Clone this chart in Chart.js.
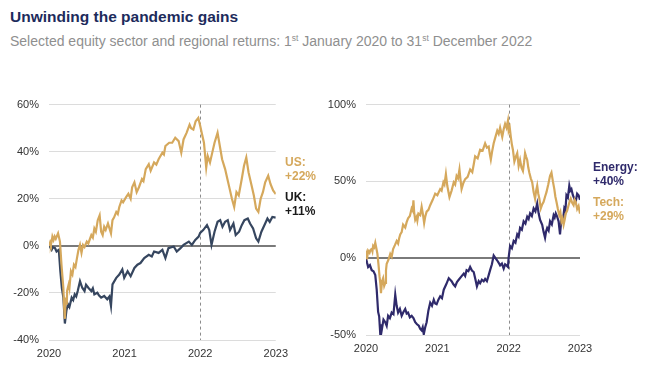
<!DOCTYPE html>
<html lang="en">
<head>
  <meta charset="UTF-8">
  <title>Unwinding the pandemic gains</title>
  <script src="https://cdn.jsdelivr.net/npm/chart.js"></script>
  <style>
    body {
      margin: 0;
      width: 660px;
      height: 370px;
      background: #fff;
      font-family: 'Liberation Sans', Arial, sans-serif;
      position: relative;
      overflow: hidden;
    }
    h1 {
      position: absolute;
      left: 10px;
      top: 8px;
      margin: 0;
      font-size: 15.5px;
      line-height: 18px;
      font-weight: bold;
      color: #1d2b5c;
    }
    .subtitle {
      position: absolute;
      left: 10px;
      top: 33px;
      font-size: 14px;
      line-height: 17px;
      color: #8f8f8f;
      white-space: nowrap;
    }
    .subtitle sup { font-size: 8.5px; line-height: 0; vertical-align: 5px; }
    canvas { position: absolute; }
    .tag {
      position: absolute;
      font-size: 12px;
      line-height: 13.5px;
      font-weight: bold;
    }
  </style>
</head>
<body>
  <h1>Unwinding the pandemic gains</h1>
  <div class="subtitle">Selected equity sector and regional returns: 1<sup>st</sup> January 2020 to 31<sup>st</sup> December 2022</div>

  <canvas id="regionChart" width="295" height="280" style="left:0;top:88px"></canvas>
  <canvas id="sectorChart" width="290" height="280" style="left:320px;top:88px"></canvas>

  <div class="tag" style="left:285px;top:156px;color:#d5a85c">US:<br>+22%</div>
  <div class="tag" style="left:285px;top:191px;color:#1a1a1a">UK:<br>+11%</div>
  <div class="tag" style="left:593px;top:161px;color:#2f2a6b">Energy:<br>+40%</div>
  <div class="tag" style="left:593px;top:196px;color:#d5a85c">Tech:<br>+29%</div>

  <script>
    // cumulative returns in %, x = fractional year
    const usYears = [2020.000,2020.015,2020.025,2020.035,2020.045,2020.06,2020.075,2020.09,2020.12,2020.145,2020.165,2020.18,2020.19,2020.20,2020.21,2020.22,2020.235,2020.24,2020.26,2020.27,2020.29,2020.31,2020.33,2020.35,2020.37,2020.39,2020.41,2020.43,2020.45,2020.47,2020.50,2020.52,2020.56,2020.58,2020.60,2020.62,2020.645,2020.67,2020.69,2020.71,2020.73,2020.75,2020.78,2020.80,2020.82,2020.84,2020.86,2020.89,2020.91,2020.93,2020.96,2020.98,2021.02,2021.05,2021.08,2021.10,2021.13,2021.16,2021.19,2021.23,2021.25,2021.28,2021.32,2021.345,2021.39,2021.42,2021.45,2021.50,2021.52,2021.54,2021.59,2021.63,2021.67,2021.715,2021.75,2021.78,2021.82,2021.86,2021.88,2021.91,2021.94,2021.975,2022.00,2022.02,2022.05,2022.08,2022.10,2022.13,2022.16,2022.19,2022.23,2022.26,2022.29,2022.33,2022.36,2022.39,2022.42,2022.45,2022.48,2022.51,2022.55,2022.58,2022.61,2022.64,2022.68,2022.71,2022.74,2022.77,2022.80,2022.83,2022.86,2022.90,2022.93,2022.965,2023.00];
    const usValues = [0,1.5,0.5,1.8,3.9,2.5,4,3,5.3,1.8,-8,-14,-17.9,-26,-31,-22,-25,-19,-16.4,-18,-10.8,-12.2,-8,-9,-5.2,-1.7,0.4,-3,0.4,-0.5,1.8,1,4.6,3.5,7.4,6,10.9,13,6,4.6,8.1,6.8,9.5,7.4,5.3,10.9,12,14.4,13.5,16.5,19.3,18.5,20.7,22.1,20,24.9,27,22.8,24.9,28.4,27.5,32.6,34.7,31.9,35.4,34.5,36.8,39.6,38.8,42.4,43.8,43.8,45.9,44.5,39.6,45.2,48,51.5,50,49.4,52.9,54.3,51,48,43.8,33.3,38.2,35.4,39.6,43.8,48,42.4,36.8,32.6,28.4,24.2,20,16.5,22.8,21.4,28.4,34,37.5,31.2,25.6,21.4,15.8,14.4,20,22.8,27,29.8,26.3,23.5,22];

    const ukYears = [2020.000,2020.02,2020.035,2020.05,2020.08,2020.10,2020.13,2020.15,2020.17,2020.19,2020.21,2020.23,2020.25,2020.27,2020.30,2020.32,2020.34,2020.36,2020.38,2020.41,2020.44,2020.47,2020.49,2020.52,2020.56,2020.58,2020.60,2020.64,2020.66,2020.69,2020.73,2020.77,2020.80,2020.82,2020.84,2020.89,2020.93,2020.97,2020.995,2021.04,2021.08,2021.13,2021.17,2021.21,2021.26,2021.32,2021.36,2021.39,2021.45,2021.50,2021.54,2021.58,2021.65,2021.69,2021.74,2021.78,2021.85,2021.89,2021.935,2021.98,2022.00,2022.04,2022.09,2022.12,2022.15,2022.19,2022.23,2022.265,2022.295,2022.33,2022.365,2022.395,2022.44,2022.47,2022.515,2022.55,2022.585,2022.63,2022.66,2022.70,2022.74,2022.77,2022.81,2022.86,2022.89,2022.92,2022.955,2023.00];
    const ukValues = [0,-0.8,-1.7,-0.6,-1,-2.4,-1.7,-10.8,-18,-22,-33,-27.6,-24.8,-26,-22,-23,-20.6,-21.5,-19.2,-15,-17.8,-19.2,-16.5,-17.8,-19.2,-18,-20.6,-19.9,-21,-22,-21.3,-22.7,-21.5,-25.5,-16.4,-13.6,-12.2,-10,-13.6,-10.8,-12.9,-9.4,-8,-7.3,-5.2,-3.8,-4.5,-2.4,-3,-1.7,-5.2,-1,-0.3,-2.4,-1,0.4,1.8,0.4,2.5,3.9,5.5,6.7,8.8,6.7,0.4,6,10.2,10.9,8.1,10.2,10.9,6.7,9.5,4.6,6,8.8,10.9,11.6,9.5,7.4,3.2,1.8,6,9.5,11.6,10.2,12.3,12];

    const techYears = [2020.00,2020.01,2020.02,2020.03,2020.05,2020.065,2020.08,2020.09,2020.10,2020.115,2020.13,2020.145,2020.16,2020.175,2020.19,2020.20,2020.21,2020.225,2020.24,2020.255,2020.27,2020.28,2020.29,2020.315,2020.34,2020.36,2020.38,2020.405,2020.43,2020.45,2020.465,2020.48,2020.50,2020.52,2020.55,2020.57,2020.59,2020.615,2020.64,2020.655,2020.665,2020.675,2020.69,2020.71,2020.72,2020.735,2020.76,2020.78,2020.80,2020.815,2020.83,2020.85,2020.875,2020.90,2020.935,2020.97,2021.00,2021.04,2021.06,2021.085,2021.10,2021.12,2021.14,2021.17,2021.20,2021.23,2021.25,2021.27,2021.29,2021.31,2021.325,2021.34,2021.365,2021.39,2021.425,2021.46,2021.49,2021.51,2021.53,2021.565,2021.60,2021.635,2021.67,2021.695,2021.72,2021.735,2021.75,2021.77,2021.79,2021.815,2021.84,2021.86,2021.88,2021.91,2021.93,2021.95,2021.97,2021.99,2022.00,2022.015,2022.03,2022.045,2022.06,2022.08,2022.10,2022.12,2022.14,2022.16,2022.18,2022.20,2022.215,2022.23,2022.245,2022.26,2022.275,2022.29,2022.31,2022.33,2022.35,2022.37,2022.385,2022.40,2022.415,2022.43,2022.45,2022.47,2022.49,2022.51,2022.53,2022.555,2022.58,2022.60,2022.62,2022.64,2022.655,2022.67,2022.69,2022.71,2022.725,2022.74,2022.755,2022.77,2022.785,2022.80,2022.82,2022.84,2022.855,2022.87,2022.89,2022.91,2022.925,2022.94,2022.96,2022.98,2023.00];
    const techValues = [0,2.8,1.5,4.9,3.5,5.5,6,4.5,8,7,10,6.5,2.8,-4,-12,-16,-22.7,-15,-13,-18,-16,-8,-3.6,-1,2.8,1,6,8.5,11.2,9.5,13,15.5,17,21.8,20,23.5,26,27.5,32.4,31,37.7,30,25,27,24.5,29,28,33.5,28,22.9,27,30.3,31.5,34.5,38,42,41,45,44,49.4,48,54.7,47,39.8,44,49.4,48,53.6,52,57.8,51,45,49,51.5,53,57.8,56,61,66.3,65,70.6,70,74.8,72,72.7,68,64.2,70,74.8,79,83,81,85,79,84,87.5,85,89.6,83,85,79,74,70.5,63,66,68.4,60,64,59,56.8,62,68.4,66,64,59,55.7,52,49.4,43,38.8,44,47.2,42,38.8,32.4,35,36.7,40,43,48,53.6,55.7,50,45,40,36.7,32,28,30,24,26,21.8,25,29,31,34.5,37,38.8,36,34.5,38,36.7,32,34,29];

    const energyYears = [2020.00,2020.015,2020.03,2020.055,2020.08,2020.105,2020.13,2020.15,2020.17,2020.185,2020.20,2020.21,2020.22,2020.245,2020.27,2020.29,2020.31,2020.335,2020.36,2020.385,2020.41,2020.43,2020.45,2020.475,2020.50,2020.525,2020.55,2020.57,2020.59,2020.615,2020.64,2020.665,2020.69,2020.715,2020.74,2020.76,2020.78,2020.795,2020.81,2020.83,2020.85,2020.875,2020.90,2020.925,2020.95,2020.97,2020.99,2021.015,2021.04,2021.065,2021.09,2021.125,2021.16,2021.18,2021.20,2021.225,2021.25,2021.275,2021.30,2021.335,2021.37,2021.39,2021.41,2021.435,2021.46,2021.485,2021.51,2021.535,2021.555,2021.58,2021.60,2021.625,2021.65,2021.67,2021.695,2021.72,2021.74,2021.765,2021.79,2021.815,2021.84,2021.86,2021.88,2021.905,2021.93,2021.95,2021.97,2021.99,2022.00,2022.02,2022.045,2022.07,2022.095,2022.12,2022.14,2022.16,2022.185,2022.21,2022.235,2022.26,2022.28,2022.30,2022.325,2022.35,2022.375,2022.40,2022.42,2022.44,2022.47,2022.49,2022.51,2022.525,2022.54,2022.56,2022.58,2022.605,2022.63,2022.645,2022.66,2022.68,2022.70,2022.72,2022.74,2022.76,2022.78,2022.795,2022.81,2022.83,2022.85,2022.865,2022.88,2022.90,2022.92,2022.94,2022.96,2022.98,2023.00];
    const energyValues = [0,-3,-5.7,-4.5,-7.8,-8.5,-11,-20.5,-35,-38,-49.5,-43,-47,-40,-41.7,-44,-37.5,-39,-35.4,-36.5,-23.7,-31,-35.4,-33,-37.5,-35,-33,-36,-35.4,-38.5,-37.5,-39,-41.7,-43,-44,-46,-47,-45,-49.5,-45,-41.7,-34,-29,-31,-27,-29.5,-30,-27,-24.8,-26,-20.5,-17,-13,-14,-15,-17,-18.4,-15.5,-14,-12,-10,-11.5,-7.8,-8.5,-5.7,-8,-9,-14,-18.4,-15,-16.3,-14,-15,-13.5,-15,-11,-7.8,-4,1.7,0,-1.5,-3,-4.7,-3.5,-6.8,-4,-4.7,-5.7,0.6,8,6.5,11.2,10,15.5,14,19.7,18.5,24,22.5,27,25.5,29.2,27.5,32.4,30.5,35.6,29.2,25,21.8,17,13.3,17.5,19.7,18,24,22,28,26.5,29.2,27,24,15.5,26,24,32.4,31,41,39.5,47.2,44,45,41,38.8,36.7,42,41,38];

    const yearTicks = [2020, 2021, 2022, 2023];
    const refYear = 2022;

    const GOLD = '#d5a85c';
    const SLATE = '#36465f';
    const INDIGO = '#2f2a6b';

    const pts = (xs, ys) => xs.map((x, i) => ({ x: x, y: ys[i] }));

    // dashed marker at the start of 2022
    const refLine = {
      id: 'refLine',
      beforeDatasetsDraw(chart) {
        const { ctx, chartArea, scales } = chart;
        const x = Math.round(scales.x.getPixelForValue(refYear)) + 0.5;
        ctx.save();
        ctx.strokeStyle = '#8c8c8c';
        ctx.lineWidth = 1;
        ctx.setLineDash([3, 3]);
        ctx.beginPath();
        ctx.moveTo(x, chartArea.top);
        ctx.lineTo(x, chartArea.bottom);
        ctx.stroke();
        ctx.restore();
      }
    };

    function makeChart(id, datasets, yMin, yMax, yStep, yWidth, xHeight, padding) {
      return new Chart(document.getElementById(id), {
        type: 'line',
        data: { datasets: datasets },
        options: {
          responsive: false,
          animation: false,
          devicePixelRatio: 1,
          layout: { padding: padding },
          elements: { point: { radius: 0 }, line: { tension: 0, borderWidth: 2.2 } },
          plugins: { legend: { display: false }, tooltip: { enabled: false } },
          scales: {
            x: {
              type: 'linear',
              min: 2020, max: 2023,
              afterBuildTicks: s => { s.ticks = yearTicks.map(v => ({ value: v })); },
              afterFit: s => { s.height = xHeight; },
              grid: { display: false, drawTicks: false },
              border: { display: false },
              ticks: {
                padding: 7,
                color: '#333',
                font: { family: 'Liberation Sans', size: 11 },
                maxRotation: 0,
                callback: v => String(v)
              }
            },
            y: {
              min: yMin, max: yMax,
              afterFit: s => { s.width = yWidth; },
              border: { display: false },
              grid: {
                drawTicks: false,
                color: c => c.tick.value === 0 ? '#7a7a7a' : '#dcdcdc',
                lineWidth: c => c.tick.value === 0 ? 2 : 1
              },
              ticks: {
                stepSize: yStep,
                padding: 10,
                color: '#333',
                font: { family: 'Liberation Sans', size: 11 },
                callback: v => v + '%'
              }
            }
          }
        },
        plugins: [refLine]
      });
    }

    makeChart('regionChart', [
      { data: pts(usYears, usValues), borderColor: GOLD },
      { data: pts(ukYears, ukValues), borderColor: SLATE }
    ], -40, 60, 20, 49, 28, { top: 11, right: 18, left: 0, bottom: 0 });

    makeChart('sectorChart', [
      { data: pts(techYears, techValues), borderColor: GOLD },
      { data: pts(energyYears, energyValues), borderColor: INDIGO }
    ], -50, 100, 50, 46, 33, { top: 10, right: 30, left: 0, bottom: 0 });
  </script>
</body>
</html>
